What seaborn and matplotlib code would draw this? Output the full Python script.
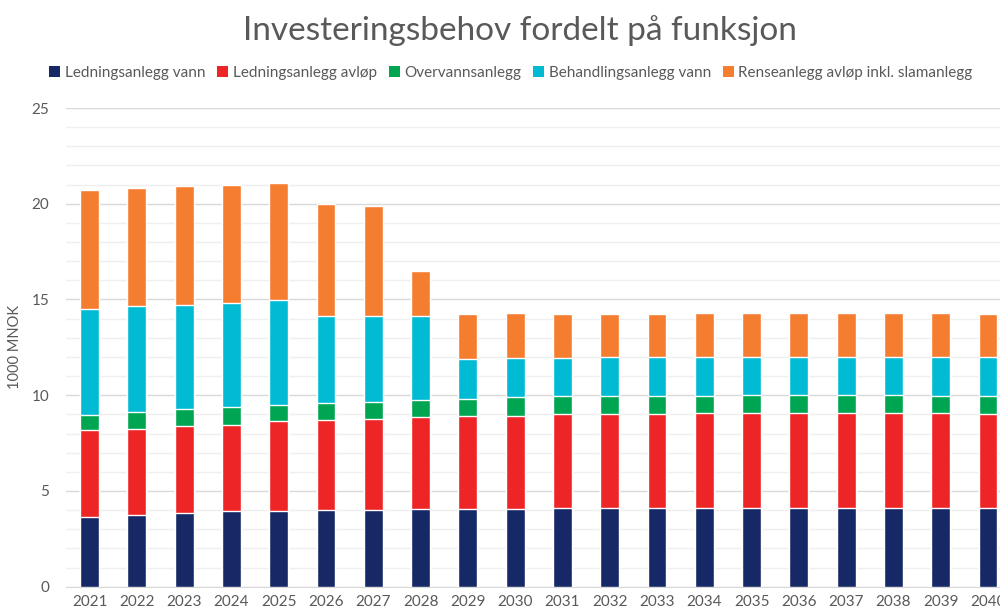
import matplotlib
matplotlib.use('Agg')
import pandas as pd
import numpy as np
import seaborn as sns
import matplotlib.pyplot as plt
from matplotlib.patches import Patch

# data (1000 MNOK)
years = [str(y) for y in range(2021, 2041)]
ledning_vann = [3.66, 3.75, 3.84, 3.93, 3.93, 4.00, 4.00, 4.05, 4.05, 4.05,
                4.13, 4.13, 4.13, 4.13, 4.13, 4.13, 4.13, 4.13, 4.13, 4.13]
ledning_avlop = [4.50, 4.50, 4.56, 4.54, 4.72, 4.70, 4.77, 4.81, 4.88, 4.88,
                 4.88, 4.88, 4.88, 4.94, 4.94, 4.94, 4.94, 4.94, 4.94, 4.88]
overvann = [0.82, 0.89, 0.86, 0.91, 0.85, 0.87, 0.87, 0.87, 0.87, 0.96,
            0.93, 0.93, 0.93, 0.87, 0.92, 0.92, 0.92, 0.92, 0.87, 0.93]
behandling_vann = [5.53, 5.50, 5.47, 5.44, 5.46, 4.57, 4.50, 4.41, 2.07, 2.03,
                   1.98, 2.06, 2.06, 2.06, 2.01, 2.01, 2.01, 2.01, 2.06, 2.06]
rense_avlop = [6.19, 6.20, 6.19, 6.17, 6.10, 5.84, 5.76, 2.37, 2.36, 2.38,
               2.31, 2.23, 2.23, 2.30, 2.30, 2.30, 2.30, 2.30, 2.30, 2.23]

series = ['Ledningsanlegg vann', 'Ledningsanlegg avløp', 'Overvannsanlegg',
          'Behandlingsanlegg vann', 'Renseanlegg avløp inkl. slamanlegg']
colors = ['#172866', '#EE2526', '#00A551', '#00BBD3', '#F47D30']

df = pd.DataFrame({'År': years,
                   series[0]: ledning_vann,
                   series[1]: ledning_avlop,
                   series[2]: overvann,
                   series[3]: behandling_vann,
                   series[4]: rense_avlop})
cum = df[series].cumsum(axis=1)

sns.set_style('white')
plt.rcParams['font.family'] = ['Lato', 'DejaVu Sans']
txt = '#595959'

fig = plt.figure(figsize=(10, 6.14), dpi=100)
ax = fig.add_axes([0.066, 0.0445, 0.9456, 0.7796])

# stacking: draw the totals first, then each lower cumulative sum on top
for i in range(len(series) - 1, -1, -1):
    sns.barplot(x=df['År'], y=cum[series[i]], color=colors[i], width=0.4,
                saturation=1, ax=ax, zorder=3)

ax.set_ylim(0, 25)
ax.set_xlim(-0.5, len(years) - 0.5)
ax.set_yticks(range(0, 26, 5))
ax.set_yticks(range(0, 26), minor=True)
ax.grid(axis='y', which='major', color='#D9D9D9', linewidth=1, zorder=0)
ax.grid(axis='y', which='minor', color='#EFEFEF', linewidth=1, zorder=0)
ax.set_axisbelow(True)
for s in ['top', 'right', 'left']:
    ax.spines[s].set_visible(False)
ax.spines['bottom'].set_color('#D9D9D9')
ax.tick_params(axis='both', which='both', length=0, colors=txt, labelsize=11)
ax.tick_params(axis='x', pad=6)
ax.tick_params(axis='y', pad=12)
ax.set_xlabel('')
ax.set_ylabel('1000 MNOK', color=txt, fontsize=10.5, labelpad=7)

fig.text(0.52, 0.951, 'Investeringsbehov fordelt på funksjon', ha='center',
         va='center', fontsize=24, color=txt)

handles = [Patch(facecolor=c, edgecolor='none') for c in colors]
fig.legend(handles, series, loc='center', bbox_to_anchor=(0.511, 0.881), ncol=5,
           frameon=False, fontsize=11, handlelength=0.7, handleheight=0.7,
           handletextpad=0.3, columnspacing=0.8, labelcolor=txt)

fig.savefig('out.png', dpi=100)
